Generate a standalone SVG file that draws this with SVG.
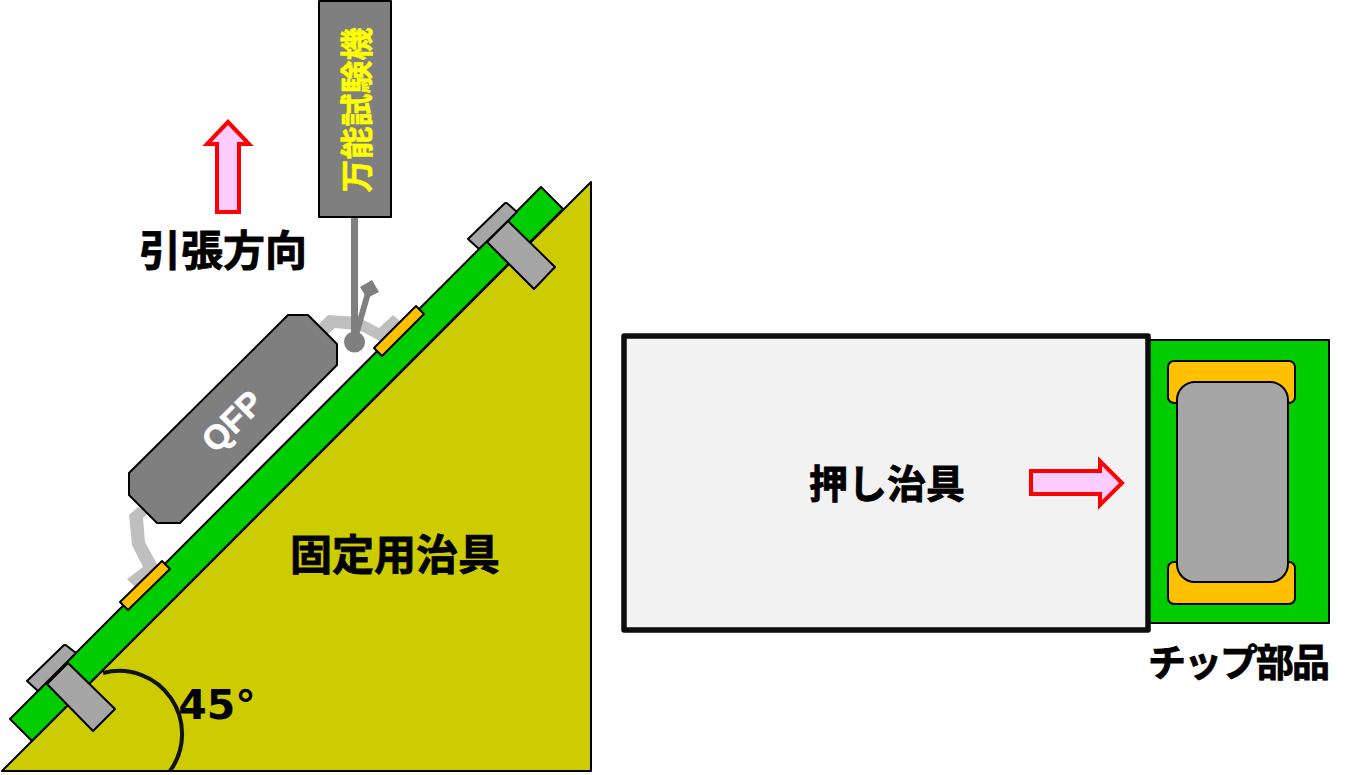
<svg xmlns="http://www.w3.org/2000/svg" width="1359" height="775" viewBox="0 0 1359 775">
<style>
.k{stroke:#000;stroke-width:2;stroke-linejoin:round}
.green{fill:#00cc00}.grey{fill:#a6a6a6}.pad{fill:#ffc000}
.dark{fill:#7f7f7f}.lead{fill:#bfbfbf}
.arrow{fill:#ffccff;stroke:#ff0000;stroke-width:4;stroke-linejoin:miter}
.t{font-family:"Noto Sans CJK JP","Liberation Sans",sans-serif;font-weight:700;fill:#000;stroke:#000;stroke-width:0.8;text-anchor:middle}
</style>
<rect width="1359" height="775" fill="#fff"/>
<g id="fixture">
<polygon class="k" fill="#cccc00" points="591,182 591,771 2,771"/>
<path d="M103 673A63 63 0 0 1 170 771" fill="none" stroke="#111" stroke-width="4"/>
<text class="t" x="395" y="570" font-size="42">固定用治具</text>
<text x="217" y="719" text-anchor="middle" font-family="'DejaVu Sans',sans-serif" font-weight="700" font-size="41">45°</text>
</g>
<g id="board">
<polygon class="k green" points="541,187 563,209 32,741 10,719"/>
</g>
<g id="clamp-top">
<path class="k grey" d="M468,239L504,204Q506,202 508,204L517,212L479,249Z"/>
<polygon class="k grey" points="508,221 555,267 534,289 487,242"/>
</g>
<g id="clamp-bottom">
<path class="k grey" d="M27,681L63,646Q65,644 67,646L76,653L38,691Z"/>
<polygon class="k grey" points="68,663 115,709 93,731 47,684"/>
</g>
<g id="leads">
<polygon class="lead" points="319,324 328,315 358,317 379,328 393,315 403,324 385,344 363,332 355,330 335,328 327,335"/>
<polygon class="lead" points="138,507 129,515 132,545 143,567 127,579 136,588 158,566 145,542 143,518 148,513"/>
</g>
<g id="pad-top"><polygon class="k pad" points="374,348 416,306 424,314 382,356"/></g>
<g id="pad-bottom"><polygon class="k pad" points="120,602 162,561 170,569 128,610"/></g>
<g id="qfp">
<polygon class="k dark" points="288,315 308,315 337,344 337,365 180,523 157,523 129,495 129,473"/>
<text transform="translate(232,421) rotate(-45)" x="0" y="12" text-anchor="middle" font-family="'Liberation Sans',sans-serif" font-weight="700" font-size="34" fill="#fff" stroke="#fff" stroke-width="0.6">QFP</text>
</g>
<g id="pin">
<rect class="dark" x="351" y="217" width="7" height="125"/>
<line x1="354" y1="342" x2="368" y2="293" stroke="#7f7f7f" stroke-width="6"/>
<polygon class="dark" points="360,287 372,280 379,292 367,298"/>
<circle class="dark" cx="354.500" cy="342" r="10.500"/>
</g>
<g id="tester">
<rect class="k dark" x="319" y="1" width="72" height="216"/>
<text transform="translate(356.500,110) rotate(-90)" x="0" y="12" text-anchor="middle" font-family="'Noto Sans CJK JP',sans-serif" font-weight="700" font-size="33" fill="#ffff00" stroke="#ffff00" stroke-width="0.5">万能試験機</text>
</g>
<g id="pull-arrow">
<polygon class="arrow" points="228,122 249,144 239,144 239,212 217,212 217,144 207,144"/>
<text class="t" x="223" y="266" font-size="42">引張方向</text>
</g>
<g id="chip">
<rect class="k green" x="1145" y="340" width="184" height="283"/>
<rect class="k pad" x="1168" y="361" width="127" height="42" rx="6"/>
<rect class="k pad" x="1168" y="562" width="127" height="42" rx="6"/>
<rect class="k grey" x="1177" y="382" width="111" height="200" rx="18"/>
<text class="t" x="1238" y="676" font-size="38" letter-spacing="-2">チップ部品</text>
</g>
<g id="pusher">
<rect x="624" y="336" width="524" height="294" fill="#f2f2f2" stroke="#0d0d0d" stroke-width="5.500" stroke-linejoin="round"/>
<text class="t" x="887" y="498" font-size="39">押し治具</text>
<polygon class="arrow" points="1031,471 1100,471 1100,461 1122,483 1100,505 1100,494 1031,494"/>
</g>
</svg>
